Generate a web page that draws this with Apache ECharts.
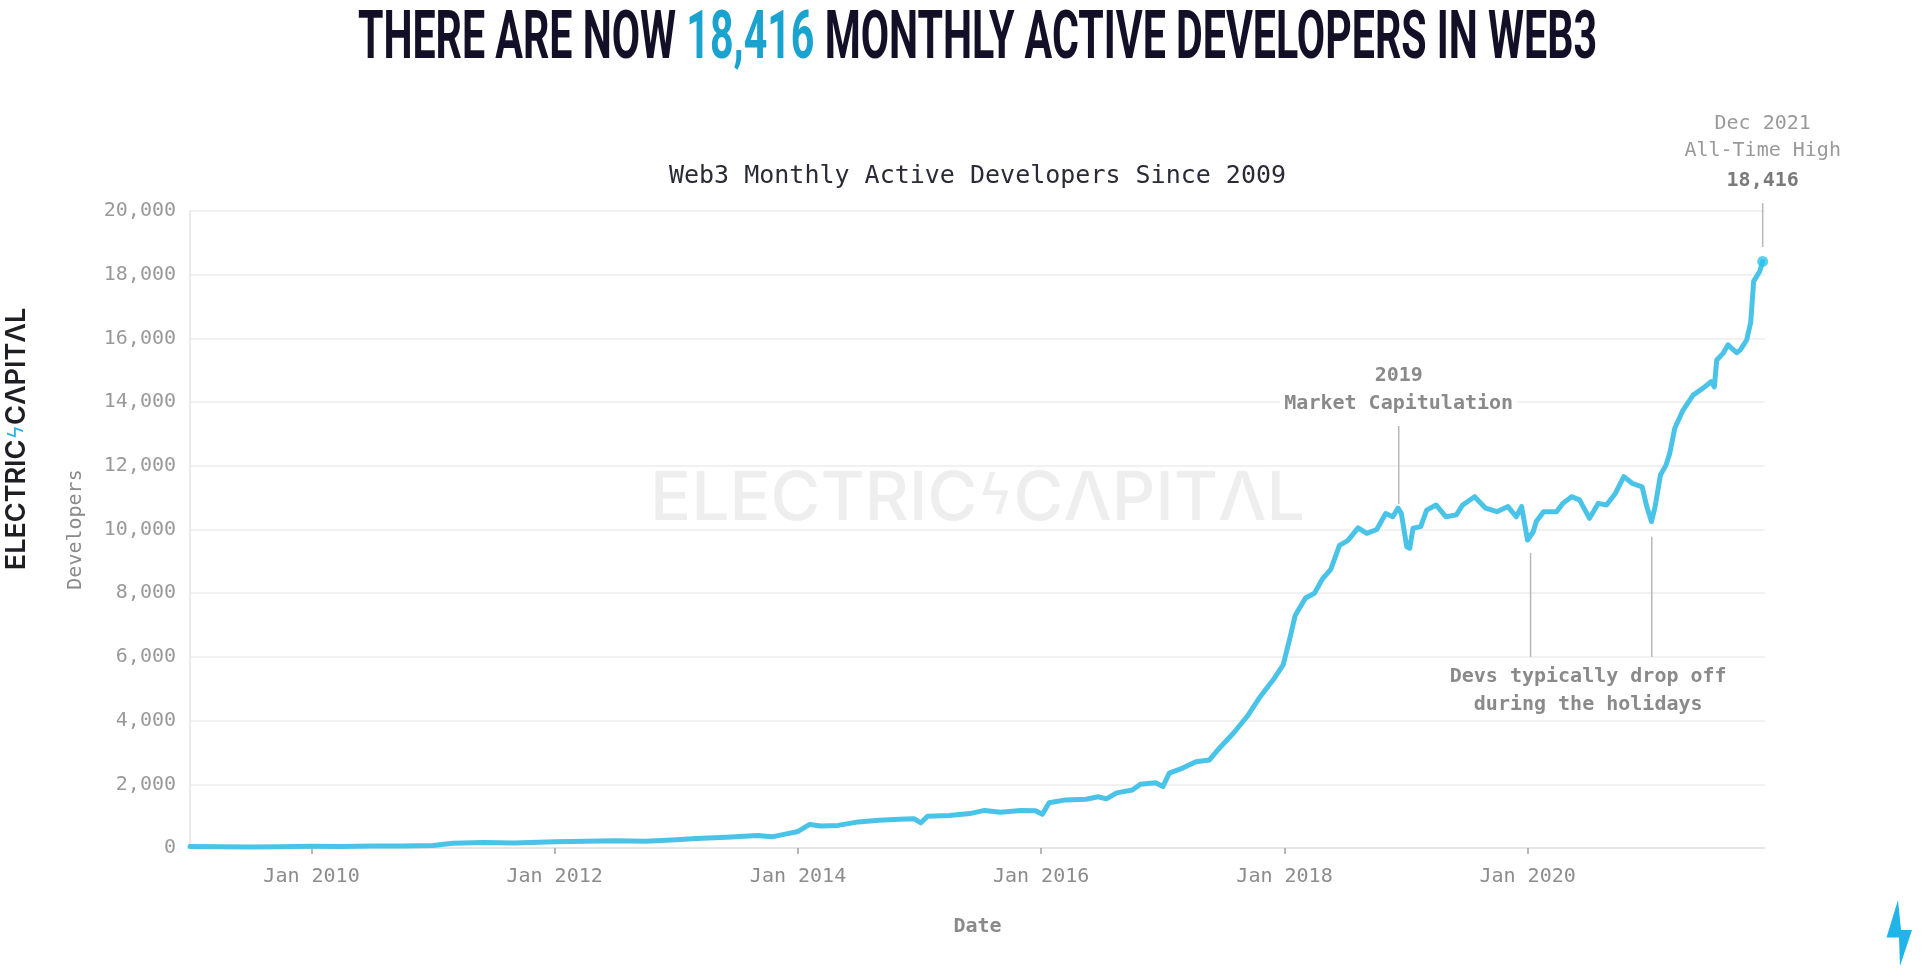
<!DOCTYPE html>
<html><head><meta charset="utf-8">
<script src="https://cdn.jsdelivr.net/npm/echarts@6/dist/echarts.min.js"></script>
<style>html,body{margin:0;padding:0;background:#fff}#c{width:1926px;height:978px}</style>
</head><body><div id="c"></div>
<script>
// ---------------- data ----------------
const headlinePre = 'THERE ARE NOW ';
const headlineValue = '18,416';
const headlinePost = ' MONTHLY ACTIVE DEVELOPERS IN WEB3';
const chartTitle = 'Web3 Monthly Active Developers Since 2009';
const xAxisName = 'Date';
const yAxisName = 'Developers';
const xRange = ['2009-01-01', '2021-12-14'];
const yRange = [0, 20000];
const yStep = 2000;
const xTickDates = ['2010-01-01','2012-01-01','2014-01-01','2016-01-01','2018-01-01','2020-01-01'];

const dates = [
 '2009-01-01','2009-04-01','2009-07-01','2009-10-01','2010-01-01','2010-04-01','2010-07-01','2010-10-01',
 '2011-01-01','2011-03-01','2011-06-01','2011-09-01','2012-01-01','2012-04-01','2012-07-01','2012-10-01',
 '2013-01-01','2013-03-01','2013-06-01','2013-09-01','2013-10-15','2013-12-01','2014-01-01','2014-02-05',
 '2014-03-10','2014-05-01','2014-07-01','2014-09-01','2014-11-01','2014-12-15','2015-01-05','2015-01-25',
 '2015-04-01','2015-06-01','2015-07-15','2015-09-01','2015-11-01','2015-12-15','2016-01-05','2016-01-25',
 '2016-03-15','2016-05-15','2016-06-20','2016-07-15','2016-08-15','2016-10-01','2016-10-25','2016-12-10',
 '2017-01-01','2017-01-20','2017-03-01','2017-04-10','2017-05-20','2017-06-20','2017-08-01','2017-09-10',
 '2017-10-20','2017-11-28','2017-12-28','2018-01-18','2018-02-02','2018-03-05','2018-04-01','2018-04-25',
 '2018-05-20','2018-06-15','2018-07-10','2018-08-10','2018-09-05','2018-10-05','2018-11-01','2018-11-22',
 '2018-12-08','2018-12-18','2019-01-03','2019-01-12','2019-01-22','2019-02-14','2019-03-04','2019-04-01',
 '2019-05-01','2019-06-01','2019-06-20','2019-07-26','2019-08-28','2019-10-01','2019-11-03','2019-11-28',
 '2019-12-14','2020-01-01','2020-01-18','2020-01-27','2020-02-18','2020-03-28','2020-04-16','2020-05-12',
 '2020-06-05','2020-07-05','2020-07-31','2020-08-25','2020-09-21','2020-10-16','2020-11-10','2020-12-10',
 '2020-12-24','2021-01-07','2021-01-18','2021-02-03','2021-02-20','2021-03-03','2021-03-18','2021-04-12',
 '2021-05-12','2021-06-10','2021-07-05','2021-07-15','2021-07-22','2021-08-10','2021-08-25','2021-09-05',
 '2021-09-20','2021-10-01','2021-10-20','2021-11-01','2021-11-10','2021-11-28','2021-12-07'
];
const developers = [
 50,40,35,40,55,50,60,65,
 80,150,170,160,200,210,230,215,
 260,300,340,390,350,450,520,740,
 690,710,820,870,900,920,790,1000,
 1020,1080,1180,1120,1180,1170,1060,1420,
 1510,1530,1610,1540,1730,1820,2000,2050,
 1930,2350,2510,2710,2760,3140,3610,4120,
 4750,5280,5750,6630,7300,7850,8000,8450,
 8750,9500,9650,10050,9880,10000,10500,10400,
 10670,10500,9460,9410,10040,10090,10610,10770,
 10400,10460,10770,11030,10670,10560,10720,10400,
 10720,9670,9930,10250,10560,10560,10820,11030,
 10930,10350,10820,10770,11140,11660,11450,11340,
 10720,10250,10720,11710,12030,12390,13180,13750,
 14220,14430,14640,14480,15320,15530,15800,15690,
 15550,15640,15950,16500,17800,18100,18416
];

const capitulationDate = '2018-12-10';
const capitulationLine = [13250, 10800];
const capitulationText = ['2019', 'Market Capitulation'];
const holidayDates = ['2020-01-10', '2021-01-08'];
const holidayLineTops = [9260, 9770];
const holidayLineBottom = 6000;
const holidayText = ['Devs typically drop off', 'during the holidays'];
const athLine = [18870, 20250];
const athText = ['Dec 2021', 'All-Time High', '18,416'];
const brandLeft = 'ELECTRIC', brandBolt = 'ϟ', brandRight = 'CΛPITΛL';

// ---------------- chart ----------------
function ts(s){ const p = s.split('-').map(Number); return new Date(p[0], p[1]-1, p[2]).getTime(); }
const W = 1926, H = 978;
const GRID = {left:190, right:161, top:211, bottom:130};
const gridCX = GRID.left + (W - GRID.left - GRID.right) / 2;
const MONO = '"DejaVu Sans Mono", "Liberation Mono", monospace';
const LINE_COLOR = '#49c3e7';
const xTickValues = xTickDates.map(ts);
const seriesData = dates.map((d, i) => [ts(d), developers[i]]);
const last = seriesData[seriesData.length - 1];

const chart = echarts.init(document.getElementById('c'), null, {renderer: 'canvas', width: W, height: H});
chart.setOption({
  backgroundColor: '#ffffff',
  animation: false,
  grid: {left: GRID.left, right: GRID.right, top: GRID.top, bottom: GRID.bottom, containLabel: false},
  xAxis: {
    type: 'value', min: ts(xRange[0]), max: ts(xRange[1]), scale: true,
    name: xAxisName, nameLocation: 'middle', nameGap: 69,
    nameTextStyle: {fontFamily: MONO, fontSize: 20, fontWeight: 'bold', color: '#8a8a8a'},
    axisLine: {show: true, onZero: false, lineStyle: {color: '#e3e3e3', width: 1.5}},
    axisTick: {show: true, customValues: xTickValues, length: 6, lineStyle: {color: '#a0a0a0', width: 1.5}},
    axisLabel: {customValues: xTickValues, formatter: v => 'Jan ' + new Date(v).getFullYear(),
      fontFamily: MONO, fontSize: 20, color: '#8c8c8c', margin: 19},
    splitLine: {show: false}
  },
  yAxis: {
    type: 'value', min: yRange[0], max: yRange[1], interval: yStep,
    name: yAxisName, nameLocation: 'middle', nameGap: 104, nameRotate: 90,
    nameTextStyle: {fontFamily: MONO, fontSize: 20, color: '#8a8a8a'},
    axisLine: {show: true, lineStyle: {color: '#e3e3e3', width: 1.5}},
    axisTick: {show: false},
    axisLabel: {formatter: v => v.toLocaleString('en-US'), fontFamily: MONO, fontSize: 20, color: '#999999', margin: 14},
    splitLine: {show: true, lineStyle: {color: '#ececec', width: 1.5}}
  },
  series: [
    {type: 'line', data: seriesData, showSymbol: false, symbol: 'none', z: 5,
     lineStyle: {color: LINE_COLOR, width: 5, join: 'round', cap: 'round'}},
    {type: 'scatter', data: [last], symbolSize: 11, z: 6, itemStyle: {color: '#30c3ef'}}
  ]
});

const px = (d, v) => chart.convertToPixel({gridIndex: 0}, [ts(d), v]);
const g = [];
g.push({type: 'text', x: gridCX, y: 41, scaleX: 0.614, z: 10,
  style: {text: '{a|' + headlinePre + '}{b|' + headlineValue + '}{a|' + headlinePost + '}',
    align: 'center', verticalAlign: 'middle',
    rich: {a: {fill: '#120f27', color: '#120f27', fontFamily: 'Roboto', fontWeight: 'bold', fontSize: 67},
           b: {fill: '#1ba3d0', color: '#1ba3d0', fontFamily: 'Roboto', fontWeight: 'bold', fontSize: 67}}}});
g.push({type: 'text', x: gridCX, y: 176, z: 10,
  style: {text: chartTitle, align: 'center', verticalAlign: 'middle', fill: '#2b2b38', font: '25px ' + MONO}});
g.push({type: 'text', x: 17, y: 439, rotation: Math.PI / 2, z: 10,
  style: {text: '{a|' + brandLeft + '}{b|' + brandBolt + '}{a|' + brandRight + '}', align: 'center', verticalAlign: 'middle',
    rich: {a: {fill: '#1e1e24', color: '#1e1e24', fontFamily: 'Inter', fontWeight: 600, fontSize: 27},
           b: {fill: '#2ab4e6', color: '#2ab4e6', fontFamily: 'DejaVu Sans', fontSize: 22}}}});
g.push({type: 'text', x: gridCX, y: 500, z: 1, silent: true,
  style: {text: '{a|' + brandLeft + '}{b|' + brandBolt + '}{a|' + brandRight + '}', align: 'center', verticalAlign: 'middle',
    rich: {a: {fill: '#eeeeee', color: '#eeeeee', fontFamily: 'Inter', fontWeight: 500, fontSize: 68},
           b: {fill: '#eeeeee', color: '#eeeeee', fontFamily: 'DejaVu Sans', fontSize: 55}}}});
g.push({type: 'polygon', z: 10, shape: {points: [[1898, 900], [1886.5, 937.5], [1899, 937.5], [1900, 966], [1912, 930], [1901, 930]]},
  style: {fill: '#1fb5ea'}});

{
  const a = px(capitulationDate, capitulationLine[0]), b = px(capitulationDate, capitulationLine[1]);
  g.push({type: 'line', z: 8, shape: {x1: a[0], y1: a[1], x2: b[0], y2: b[1]}, style: {stroke: '#b8b8b8', lineWidth: 1.5}});
  g.push({type: 'text', x: a[0], y: a[1] - 8, z: 9,
    style: {text: capitulationText.join('\n'), align: 'center', verticalAlign: 'bottom', lineHeight: 28,
      fill: '#8a8a8a', fontFamily: MONO, fontSize: 20, fontWeight: 'bold', backgroundColor: '#ffffff', padding: [0, 4]}});
}
{
  const xs = [];
  holidayDates.forEach((d, i) => {
    const a = px(d, holidayLineTops[i]), b = px(d, holidayLineBottom);
    xs.push(a[0]);
    g.push({type: 'line', z: 8, shape: {x1: a[0], y1: a[1], x2: b[0], y2: b[1]}, style: {stroke: '#b8b8b8', lineWidth: 1.5}});
  });
  const bottom = px(holidayDates[0], holidayLineBottom);
  g.push({type: 'text', x: (xs[0] + xs[1]) / 2 - 3, y: bottom[1] + 6, z: 9,
    style: {text: holidayText.join('\n'), align: 'center', verticalAlign: 'top', lineHeight: 28,
      fill: '#8a8a8a', fontFamily: MONO, fontSize: 20, fontWeight: 'bold'}});
}
{
  const lastDate = dates[dates.length - 1];
  const a = px(lastDate, athLine[0]), b = px(lastDate, athLine[1]);
  g.push({type: 'line', z: 8, shape: {x1: a[0], y1: a[1], x2: b[0], y2: b[1]}, style: {stroke: '#b8b8b8', lineWidth: 1.5}});
  g.push({type: 'text', x: b[0], y: b[1] - 5, z: 9,
    style: {text: '{r|' + athText[0] + '}\n{r|' + athText[1] + '}\n{v|' + athText[2] + '}', align: 'center', verticalAlign: 'bottom',
      rich: {r: {fill: '#999999', color: '#999999', fontFamily: MONO, fontSize: 20, lineHeight: 27},
             v: {fill: '#7a7a7a', color: '#7a7a7a', fontFamily: MONO, fontSize: 20, fontWeight: 'bold', lineHeight: 34}}}});
}
chart.setOption({graphic: g});
</script>
</body></html>
